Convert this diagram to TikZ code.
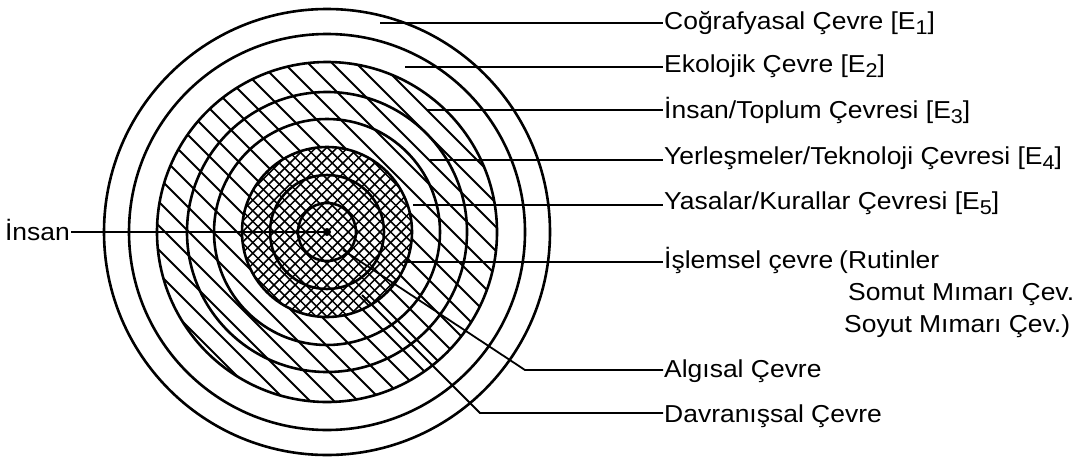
\documentclass[tikz,border=0pt]{standalone}
\usepackage{fontspec}
\setmainfont{Liberation Sans}[FakeStretch=1.08]
\usetikzlibrary{positioning,calc}
\newcommand{\Esub}[1]{[E\raisebox{-5pt}{\fontsize{20}{20}\selectfont#1}]}

\begin{document}
\begin{tikzpicture}[x=1pt,y=-1pt,
 ring/.style={line width=2.6pt},
 hatch/.style={line width=1.9pt},
 xhatch/.style={line width=1.5pt},
 lead/.style={line width=1.8pt},
 lbl/.style={anchor=base west,inner sep=1pt,font=\fontsize{24.5}{28}\selectfont}]
\useasboundingbox (0,0) rectangle (1074,461);
\coordinate (c) at (327,232);
% single hatching E3..E5
\begin{scope}
\clip (c) circle[radius=170pt];
\foreach \k in {-18,...,4}
  \draw[hatch] (100,{167+24*\k}) -- (600,{667+24*\k});
\end{scope}
% cross hatching
\fill[white] (c) circle[radius=85pt];
\begin{scope}
\clip (c) circle[radius=85pt];
\foreach \k in {-12,...,12}{
  \draw[xhatch] (200,{105+10.6*\k}) -- (460,{365+10.6*\k});
  \draw[xhatch] (200,{359+10.6*\k}) -- (460,{99+10.6*\k});
}
\end{scope}
\foreach \r in {223,198,170,140,113,85,57,29}
  \draw[ring] (c) circle[radius=\r pt];
\fill (c) circle[radius=4pt];

\node[lbl] (l1) at (663,29) {Coğrafyasal Çevre \Esub{1}};
\node[lbl] (l2) at (663,72) {Ekolojik Çevre \Esub{2}};
\node[lbl] (l3) at (663,118) {İnsan/Toplum Çevresi \Esub{3}};
\node[lbl] (l4) at (663,164) {Yerleşmeler/Teknoloji Çevresi \Esub{4}};
\node[lbl] (l5) at (663,209) {Yasalar/Kurallar Çevresi \Esub{5}};
\node[lbl] (l6) at (663,268) {İşlemsel çevre};
\node[lbl] (rut) at (838,268) {(Rutinler};
\node[lbl] (som) at (847,300) {Somut Mımarı Çev.};
\node[lbl] (soy) at (843,332) {Soyut Mımarı Çev.)};
\node[lbl] (l7) at (663,377) {Algısal Çevre};
\node[lbl] (l8) at (663,422) {Davranışsal Çevre};
\node[lbl,anchor=base east] (insan) at (71,240) {İnsan};

\coordinate (s1) at (380,23);
\coordinate (s2) at (405,67);
\coordinate (s3) at (427,110);
\coordinate (s4) at (430,160);
\coordinate (s5) at (413,205);
\coordinate (s6) at (403,262);
\coordinate (s7) at (343,250);
\coordinate (k7) at (525,370);
\coordinate (s8) at (362,295);
\coordinate (k8) at (480,413);
\draw[lead] (s1) -- (s1 -| l1.west);
\draw[lead] (s2) -- (s2 -| l2.west);
\draw[lead] (s3) -- (s3 -| l3.west);
\draw[lead] (s4) -- (s4 -| l4.west);
\draw[lead] (s5) -- (s5 -| l5.west);
\draw[lead] (s6) -- (s6 -| l6.west);
\draw[lead] (s7) -- (k7) -- (k7 -| l7.west);
\draw[lead] (s8) -- (k8) -- (k8 -| l8.west);
\draw[lead] (c -| insan.east) -- (c);
\end{tikzpicture}
\end{document}
